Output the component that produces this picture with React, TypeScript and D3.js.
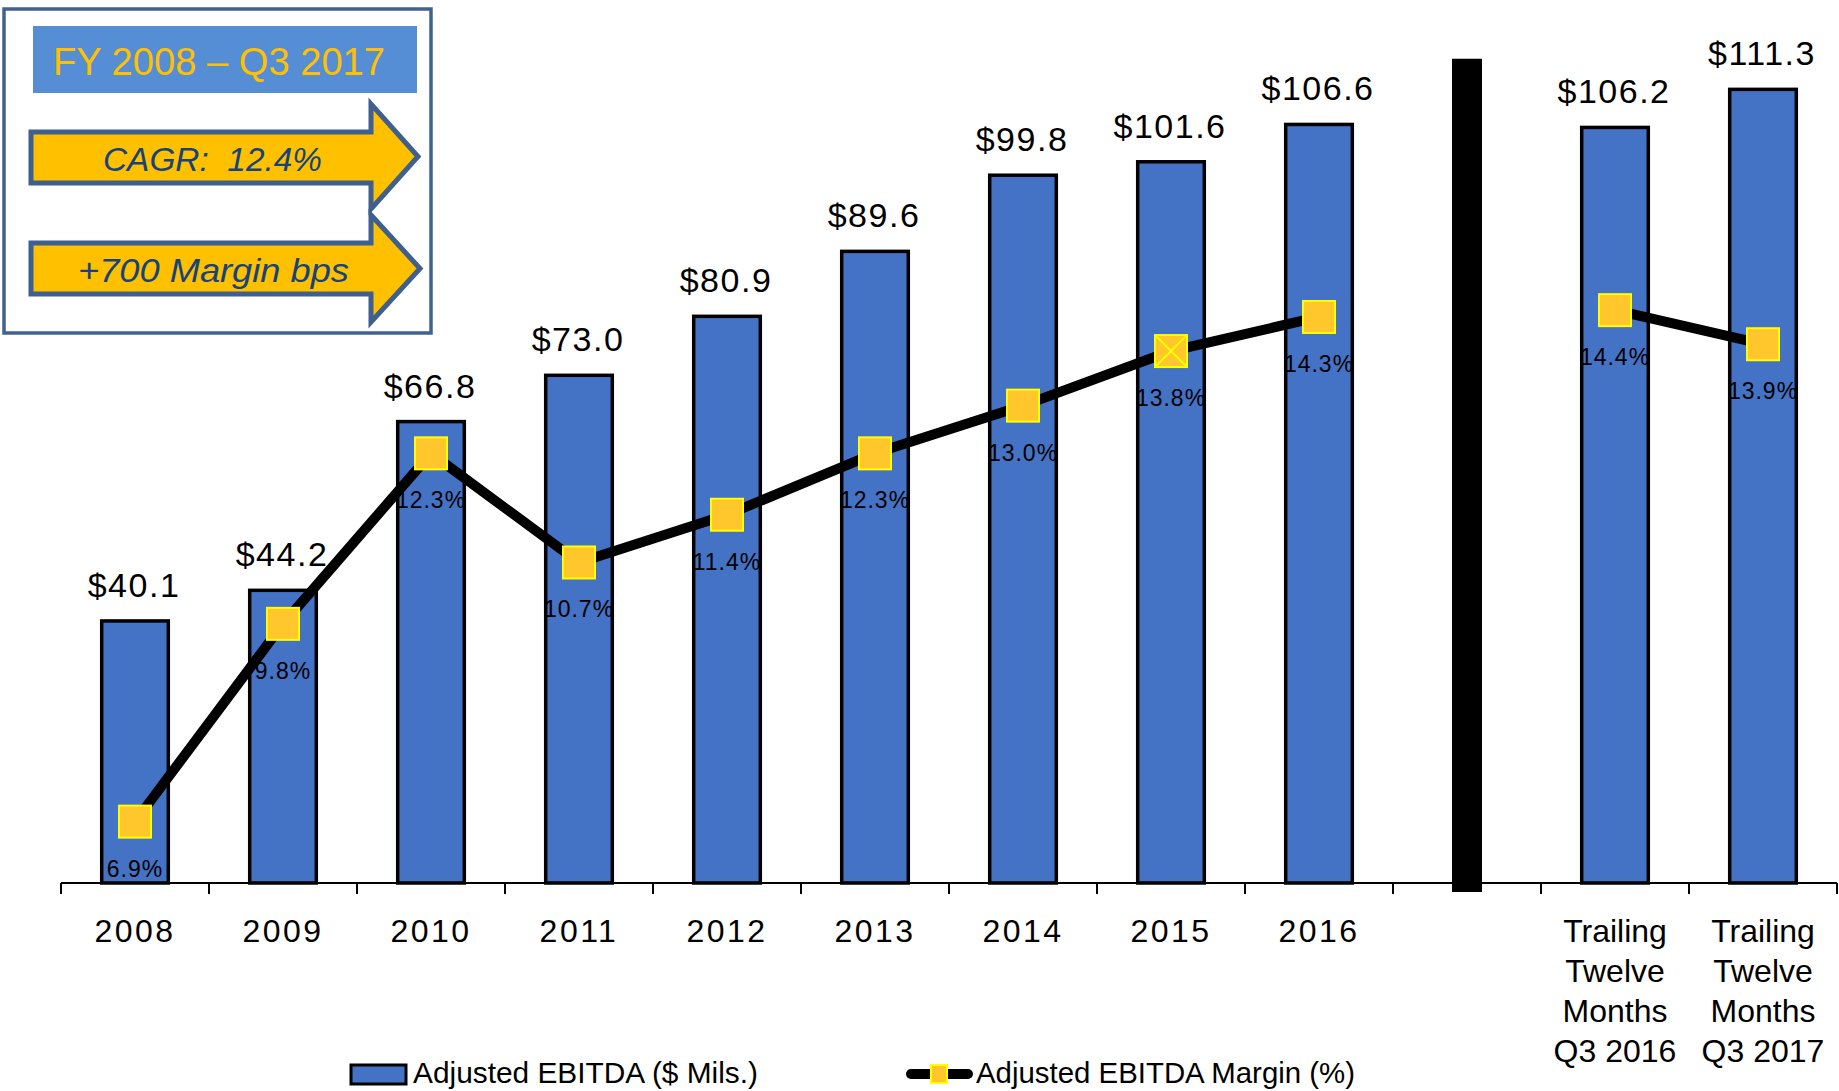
import React from "react";
import * as d3 from "d3";

const categories = ["2008", "2009", "2010", "2011", "2012", "2013", "2014", "2015", "2016", "gap", "TTM Q3 2016", "TTM Q3 2017"];
const categoryLabels: string[][] = [
  ["2008"], ["2009"], ["2010"], ["2011"], ["2012"], ["2013"], ["2014"], ["2015"], ["2016"], [],
  ["Trailing", "Twelve", "Months", "Q3 2016"],
  ["Trailing", "Twelve", "Months", "Q3 2017"],
];
const ebitda: (number | null)[] = [40.1, 44.2, 66.8, 73.0, 80.9, 89.6, 99.8, 101.6, 106.6, null, 106.2, 111.3];
const margin: (number | null)[] = [6.9, 9.8, 12.3, 10.7, 11.4, 12.3, 13.0, 13.8, 14.3, null, 14.4, 13.9];
const crossedMarker = "2015";
const dividerCategory = "gap";
const dividerTop = 115.4;
const ebitdaDomain = [5, 120];
const marginDomain = [6, 18.59];
const legendItems = ["Adjusted EBITDA ($ Mils.)", "Adjusted EBITDA Margin (%)"];
const boxTitle = "FY 2008 – Q3 2017";
const boxArrows = ["CAGR:  12.4%", "+700 Margin bps"];

const W = 1839;
const H = 1091;
const baseY = 883;
const topY = 24.4;
const font = "'Liberation Sans', Arial, sans-serif";

export default function App() {
  const x = d3.scaleBand<string>().domain(categories).range([61, 1837]).paddingInner(0.55).paddingOuter(0.275);
  const y = d3.scaleLinear().domain(ebitdaDomain).range([baseY, topY]);
  const ym = d3.scaleLinear().domain(marginDomain).range([baseY, topY]);
  const bw = x.bandwidth();
  const step = x.step();
  const cx = (c: string) => (x(c) as number) + bw / 2;

  const pts = categories.map((c, i) => ({ c, m: margin[i] }));
  const line = d3
    .line<{ c: string; m: number | null }>()
    .defined((d) => d.m != null)
    .x((d) => cx(d.c))
    .y((d) => ym(d.m as number));

  const ticks = d3.range(categories.length + 1).map((i) => 61 + i * step);

  const arrowPath = (bodyTop: number, bodyBot: number, headTop: number, headBot: number, tipX: number) => {
    const mid = (headTop + headBot) / 2;
    return `M31,${bodyTop} L371,${bodyTop} L371,${headTop} L${tipX},${mid} L371,${headBot} L371,${bodyBot} L31,${bodyBot} Z`;
  };

  return (
    <div style={{ position: "absolute", left: 0, top: 0 }}>
      <svg width={W} height={H} viewBox={`0 0 ${W} ${H}`} style={{ display: "block", background: "#fff" }}>
        {/* bars */}
        {categories.map((c, i) =>
          ebitda[i] == null ? null : (
            <rect
              key={c}
              x={x(c)}
              y={y(ebitda[i] as number)}
              width={bw}
              height={baseY - y(ebitda[i] as number)}
              fill="#4472C4"
              stroke="#000"
              strokeWidth={3.5}
            />
          )
        )}
        {/* divider */}
        <rect x={cx(dividerCategory) - 15} y={y(dividerTop)} width={30} height={892 - y(dividerTop)} fill="#000" />
        {/* axis */}
        <line x1={61} x2={1837} y1={baseY} y2={baseY} stroke="#000" strokeWidth={2} />
        {ticks.map((t, i) => (
          <line key={i} x1={t} x2={t} y1={baseY} y2={894} stroke="#000" strokeWidth={2} />
        ))}
        {categories.map((c, i) =>
          categoryLabels[i].map((l, j) => (
            <text
              key={c + j}
              x={cx(c)}
              y={942 + j * 40}
              textAnchor="middle"
              fontFamily={font}
              fontSize={32}
              letterSpacing={/\d/.test(l) && !/Q/.test(l) ? 2.5 : 0}
              fill="#000"
            >
              {l}
            </text>
          ))
        )}
        {/* margin line */}
        <path d={line(pts) || ""} fill="none" stroke="#000" strokeWidth={10} strokeLinejoin="round" />
        {pts.map((p) =>
          p.m == null ? null : (
            <g key={p.c}>
              <rect x={cx(p.c) - 16} y={ym(p.m) - 16} width={32} height={32} fill="#FFC72C" stroke="#FFFF00" strokeWidth={2} />
              {p.c === crossedMarker && (
                <path
                  d={`M${cx(p.c) - 16},${ym(p.m) - 16} L${cx(p.c) + 16},${ym(p.m) + 16} M${cx(p.c) + 16},${ym(p.m) - 16} L${cx(p.c) - 16},${ym(p.m) + 16}`}
                  stroke="#FFFF00"
                  strokeWidth={2}
                />
              )}
            </g>
          )
        )}
        {pts.map((p) =>
          p.m == null ? null : (
            <text key={"ml" + p.c} x={cx(p.c)} y={ym(p.m) + 55} textAnchor="middle" fontFamily={font} fontSize={23} letterSpacing={1} fill="#000">
              {p.m.toFixed(1) + "%"}
            </text>
          )
        )}
        {/* value labels */}
        {categories.map((c, i) =>
          ebitda[i] == null ? null : (
            <text key={"v" + c} x={cx(c) - 1} y={y(ebitda[i] as number) - 24} textAnchor="middle" fontFamily={font} fontSize={34} letterSpacing={1.5} fill="#000">
              {"$" + (ebitda[i] as number).toFixed(1)}
            </text>
          )
        )}
        {/* info box */}
        <rect x={4} y={9} width={427} height={324} fill="#fff" stroke="#41618F" strokeWidth={3.5} />
        <rect x={33} y={26} width={384} height={67} fill="#558ED5" />
        <text x={53} y={75} fontFamily={font} fontSize={38} fill="#FFC000" textLength={332} lengthAdjust="spacingAndGlyphs">
          {boxTitle}
        </text>
        <path d={arrowPath(132, 183, 104, 209, 418)} fill="#FFC000" stroke="#3F5F8F" strokeWidth={5} />
        <text x={103} y={171} fontFamily={font} fontStyle="italic" fontSize={33} fill="#17437C" textLength={219} lengthAdjust="spacingAndGlyphs" style={{ whiteSpace: "pre" }}>
          {boxArrows[0]}
        </text>
        <path d={arrowPath(243, 294, 215, 322, 420)} fill="#FFC000" stroke="#3F5F8F" strokeWidth={5} />
        <text x={78} y={282} fontFamily={font} fontStyle="italic" fontSize={34} fill="#17437C" textLength={271} lengthAdjust="spacingAndGlyphs">
          {boxArrows[1]}
        </text>
        {/* legend */}
        <rect x={351} y={1065} width={55} height={19} fill="#4472C4" stroke="#000" strokeWidth={3} />
        <text x={413} y={1083} fontFamily={font} fontSize={29} fill="#000" textLength={345} lengthAdjust="spacingAndGlyphs">
          {legendItems[0]}
        </text>
        <line x1={911} x2={968} y1={1074} y2={1074} stroke="#000" strokeWidth={10} strokeLinecap="round" />
        <rect x={931} y={1065} width={16} height={18} fill="#FFC72C" stroke="#FFFF00" strokeWidth={2} />
        <text x={976} y={1083} fontFamily={font} fontSize={29} fill="#000" textLength={379} lengthAdjust="spacingAndGlyphs">
          {legendItems[1]}
        </text>
      </svg>
    </div>
  );
}
